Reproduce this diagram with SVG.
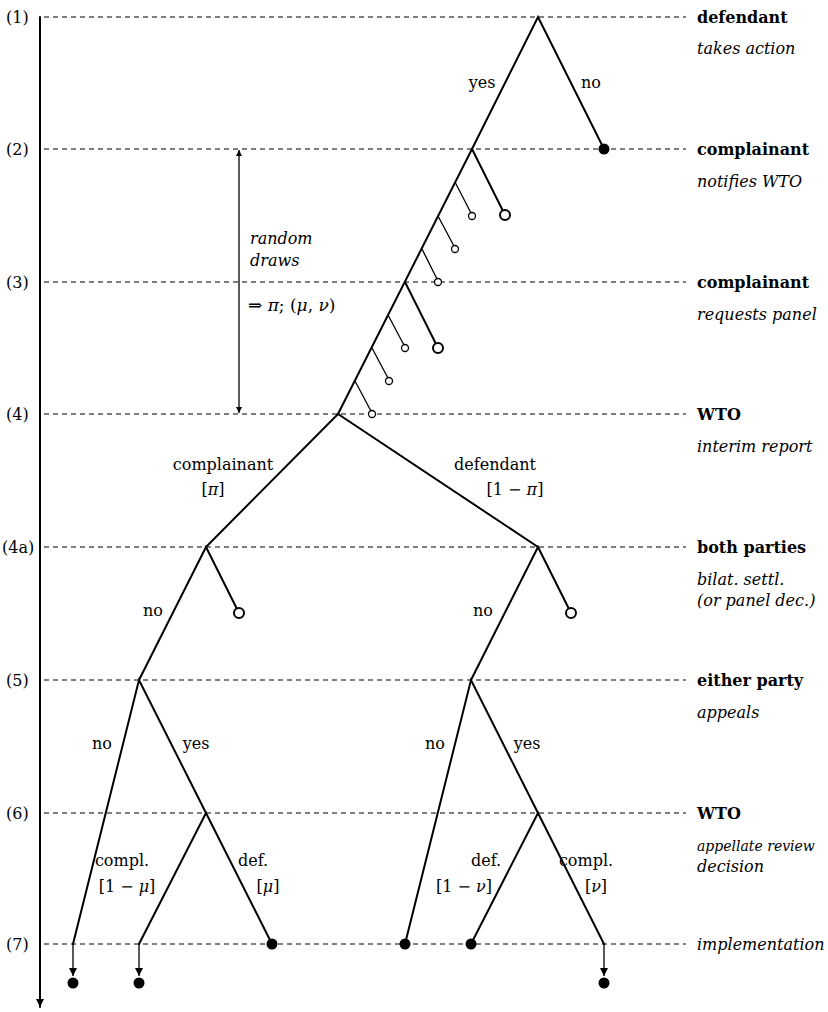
<svg xmlns="http://www.w3.org/2000/svg" width="828" height="1012" viewBox="0 0 828 1012">
<style>
text{font-family:"DejaVu Serif","Liberation Serif",serif;font-size:16px;fill:#000}
.b{font-weight:bold}
.i{font-style:italic}
.g{font-style:italic}
.m{text-anchor:middle}
.sm{font-size:14px}
.mx{font-size:17px}
.dash{stroke:#000;stroke-width:1;stroke-dasharray:5 4;fill:none}
.e{stroke:#000;stroke-width:2;fill:none;stroke-linecap:round}
.t{stroke:#000;stroke-width:1.3;fill:none}
.sc{stroke:#000;stroke-width:1.3;fill:#fff}
.bc{stroke:#000;stroke-width:2;fill:#fff}
.dot{fill:#000}
</style>
<defs>
<marker id="ah" viewBox="0 0 10 10" refX="10" refY="5" markerWidth="8" markerHeight="8" markerUnits="userSpaceOnUse" orient="auto"><path d="M0,0 L10,5 L0,10 z" fill="#000"/></marker>
<marker id="ahs" viewBox="0 0 10 10" refX="10" refY="5" markerWidth="7" markerHeight="6" markerUnits="userSpaceOnUse" orient="auto-start-reverse"><path d="M0,0 L10,5 L0,10 z" fill="#000"/></marker>
</defs>
<g id="axis">
<line x1="40" y1="17" x2="40" y2="1007" class="e" marker-end="url(#ah)"/>
<text x="6" y="23">(1)</text>
<text x="6" y="155">(2)</text>
<text x="6" y="288">(3)</text>
<text x="6" y="420">(4)</text>
<text x="2" y="553">(4a)</text>
<text x="6" y="686">(5)</text>
<text x="6" y="819">(6)</text>
<text x="6" y="950">(7)</text>
</g>
<g id="stages">
<line x1="44" y1="17" x2="686" y2="17" class="dash"/>
<line x1="44" y1="149" x2="686" y2="149" class="dash"/>
<line x1="44" y1="282" x2="686" y2="282" class="dash"/>
<line x1="44" y1="414" x2="686" y2="414" class="dash"/>
<line x1="44" y1="547" x2="686" y2="547" class="dash"/>
<line x1="44" y1="680" x2="686" y2="680" class="dash"/>
<line x1="44" y1="813" x2="686" y2="813" class="dash"/>
<line x1="44" y1="944" x2="686" y2="944" class="dash"/>
</g>
<g id="stage-labels">
<text x="697" y="23" class="b">defendant</text>
<text x="697" y="54" class="i">takes action</text>
<text x="697" y="155" class="b">complainant</text>
<text x="697" y="187" class="i">notifies WTO</text>
<text x="697" y="288" class="b">complainant</text>
<text x="697" y="320" class="i">requests panel</text>
<text x="697" y="420" class="b">WTO</text>
<text x="697" y="452" class="i">interim report</text>
<text x="697" y="553" class="b">both parties</text>
<text x="697" y="585" class="i">bilat. settl.</text>
<text x="697" y="606" class="i">(or panel dec.)</text>
<text x="697" y="686" class="b">either party</text>
<text x="697" y="718" class="i">appeals</text>
<text x="697" y="819" class="b">WTO</text>
<text x="697" y="851" class="i sm">appellate review</text>
<text x="697" y="872" class="i">decision</text>
<text x="697" y="950" class="i">implementation</text>
</g>
<g id="random-draws">
<line x1="239" y1="150" x2="239" y2="413" class="t" stroke-width="1" marker-start="url(#ahs)" marker-end="url(#ahs)"/>
<text x="250" y="244" class="i">random</text>
<text x="250" y="266" class="i">draws</text>
<text x="248" y="311" class="mx">⇒ <tspan class="g">π</tspan>; (<tspan class="g">μ</tspan>, <tspan class="g">ν</tspan>)</text>
</g>
<g id="connectors">
<path class="e" d="M472,149 L538,17 L604,149"/>
<path class="e" d="M472,149 L338,414"/>
<path class="e" d="M472,149 L505,215"/>
<path class="e" d="M405,282 L438,348"/>
<path class="t" d="M455,182 L472,215 M438,216 L455,248 M422,249 L438,281"/>
<path class="t" d="M388,315 L405,347 M372,348 L389,380 M355,381 L372,413"/>
<path class="e" d="M206,547 L338,414 L538,547"/>
<path class="e" d="M139,680 L206,547 L239,613"/>
<path class="e" d="M471,680 L538,547 L571,613"/>
<path class="e" d="M73,944 L139,680 L206,813"/>
<path class="e" d="M139,944 L206,813 L272,944"/>
<path class="e" d="M405,944 L471,680 L538,813"/>
<path class="e" d="M471,944 L538,813 L604,944"/>
<line x1="73" y1="944" x2="73" y2="976" class="t" marker-end="url(#ah)"/>
<line x1="139" y1="944" x2="139" y2="976" class="t" marker-end="url(#ah)"/>
<line x1="604" y1="944" x2="604" y2="976" class="t" marker-end="url(#ah)"/>
</g>
<g id="edge-labels">
<text x="482" y="88" class="m">yes</text>
<text x="591" y="88" class="m">no</text>
<text x="223" y="470" class="m">complainant</text>
<text x="213" y="495" class="m">[<tspan class="g">π</tspan>]</text>
<text x="495" y="470" class="m">defendant</text>
<text x="515" y="495" class="m">[1 − <tspan class="g">π</tspan>]</text>
<text x="153" y="616" class="m">no</text>
<text x="483" y="616" class="m">no</text>
<text x="102" y="749" class="m">no</text>
<text x="196" y="749" class="m">yes</text>
<text x="435" y="749" class="m">no</text>
<text x="527" y="749" class="m">yes</text>
<text x="122" y="866" class="m">compl.</text>
<text x="127" y="892" class="m">[1 − <tspan class="g">μ</tspan>]</text>
<text x="253" y="866" class="m">def.</text>
<text x="268" y="892" class="m">[<tspan class="g">μ</tspan>]</text>
<text x="486" y="866" class="m">def.</text>
<text x="464" y="892" class="m">[1 − <tspan class="g">ν</tspan>]</text>
<text x="586" y="866" class="m">compl.</text>
<text x="596" y="892" class="m">[<tspan class="g">ν</tspan>]</text>
</g>
<g id="terminals">
<circle cx="604" cy="149" r="5.5" class="dot"/>
<circle cx="505" cy="215" r="5" class="bc"/>
<circle cx="438" cy="348" r="5" class="bc"/>
<circle cx="472" cy="216" r="3.5" class="sc"/>
<circle cx="455" cy="249" r="3.5" class="sc"/>
<circle cx="438" cy="282" r="3.5" class="sc"/>
<circle cx="405" cy="348" r="3.5" class="sc"/>
<circle cx="389" cy="381" r="3.5" class="sc"/>
<circle cx="372" cy="414" r="3.5" class="sc"/>
<circle cx="239" cy="613" r="5" class="bc"/>
<circle cx="571" cy="613" r="5" class="bc"/>
<circle cx="272" cy="944" r="5.5" class="dot"/>
<circle cx="405" cy="944" r="5.5" class="dot"/>
<circle cx="471" cy="944" r="5.5" class="dot"/>
<circle cx="73" cy="983" r="5.5" class="dot"/>
<circle cx="139" cy="983" r="5.5" class="dot"/>
<circle cx="604" cy="983" r="5.5" class="dot"/>
</g>
</svg>
